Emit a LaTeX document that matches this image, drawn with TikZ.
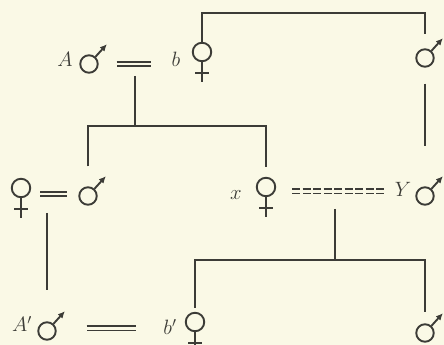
\documentclass[tikz,border=0pt]{standalone}
\usepackage{xcolor}
\usepackage{tikz}
\usetikzlibrary{arrows.meta, positioning, calc}
\definecolor{paper}{HTML}{FAF9E6}
\definecolor{ink}{HTML}{3C3C37}

\begin{document}
\begin{tikzpicture}[
    x=1pt, y=1pt,
    kin/.style={draw=ink, line width=2pt},
    sym/.style={
      circle,
      draw=ink,
      line width=1.9pt,
      minimum size=17.5pt,
      inner sep=0pt
    },
    male/.style={sym, append after command={
        (\tikzlastnode.48) edge[kin, line width=1.9pt, -{Latex[length=7pt, width=6.5pt]}]
        ([shift={(48:17pt)}]\tikzlastnode.48)}},
    female/.style={sym, minimum size=18.5pt, append after command={
        (\tikzlastnode.south) edge[kin, line width=1.9pt] ([yshift=-20pt]\tikzlastnode.south)
        ([xshift=-7pt, yshift=-11pt]\tikzlastnode.south) edge[kin, line width=1.9pt]
        ([xshift=7pt, yshift=-11pt]\tikzlastnode.south)}},
    marr/.style={draw=ink, line width=1.8pt, double=paper, double distance=2.4pt},
    lbl/.style={inner sep=0pt, anchor=base, text=ink, font=\huge}
  ]
    \useasboundingbox (0,0) rectangle (444,345);
    \fill[paper] (0,0) rectangle (444,345);

    % first generation
    \node[male] (mA) at (89,281) {};
    \node[lbl] (Alab) at (65,278) {$A$};
    \node[lbl] (blab) at (176,278) {$b$};
    \node[female] (fb) at (202,293) {};
    \node[male] (mTR) at (425,287) {};

    % second generation
    \node[female] (fL) at (21,157) {};
    \node[male] (mM) at (88,149) {};
    \node[lbl] (xlab) at (236,145) {$x$};
    \node[female] (fx) at (266,158) {};
    \node[lbl] (Ylab) at (403,148) {$Y$};
    \node[male] (mY) at (425,149) {};

    % third generation
    \node[lbl] (A2lab) at (22,13) {$A'$};
    \node[male] (mA2) at (47,14) {};
    \node[lbl] (b2lab) at (170,10) {$b'$};
    \node[female] (fb2) at (195,23) {};
    \node[male] (mBR) at (425,12) {};

    % marriages
    \draw[marr, shorten <=18pt, shorten >=20pt] (mA.east) -- coordinate (u1) (blab.west |- mA.east);
    \draw[marr, shorten <=9pt, shorten >=11pt] ($(fL.east)+(0,-6)$) -- coordinate (u2) ($(fL.east -| mM.west)+(0,-6)$);
    \draw[marr, dash pattern=on 8pt off 2.5pt, shorten <=16pt, shorten >=10pt] ($(fx.east)+(0,-4.5)$) -- coordinate (u3) ($(fx.east -| Ylab.west)+(0,-4.5)$);
    \draw[marr, shorten <=30pt, shorten >=27pt] ($(mA2.east)+(0,2.5)$) -- ($(mA2.east -| b2lab.west)+(0,2.5)$);

    % descent
    \draw[kin] (fb.north) -- ++(0,28.5) -| ($(mTR.north)+(0,14)$);
    \draw[kin] ($(mTR.south)+(0,-16)$) -- ($(mY.north)+(0,40)$);
    \draw[kin] ($(u1)+(0,-12)$) -- ++(0,-50) coordinate (j1);
    \draw[kin] ($(mM.north)+(0,20)$) |- (j1) -| ($(fx.north)+(0,10)$);
    \draw[kin] ($(u2 -| mA2.north)+(0,-19)$) -- ($(mA2.north)+(0,31)$);
    \draw[kin] ($(u3)+(0,-17.5)$) -- ++(0,-51) coordinate (j3);
    \draw[kin] ($(fb2.north)+(0,4)$) |- (j3) -| ($(mBR.north)+(0,11)$);
  \end{tikzpicture}
\end{document}
